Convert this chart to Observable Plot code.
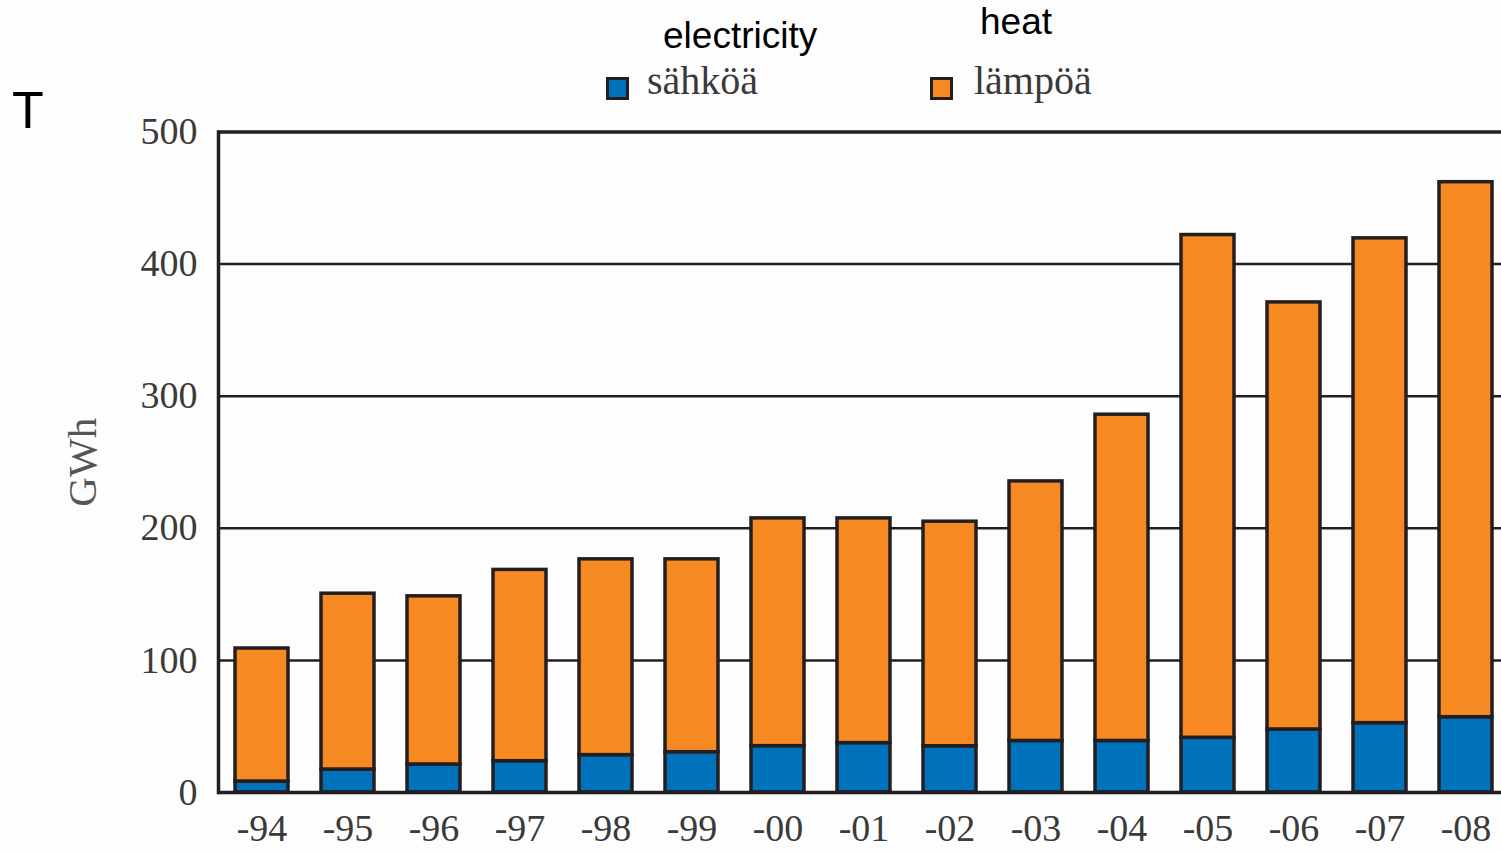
<!DOCTYPE html>
<html>
<head>
<meta charset="utf-8">
<script src="https://cdn.jsdelivr.net/npm/d3@7"></script>
<script src="https://cdn.jsdelivr.net/npm/@observablehq/plot@0.6"></script>
<style>
  html, body { margin: 0; padding: 0; background: #fdfdfd; }
  #wrap { position: relative; width: 1501px; height: 852px; overflow: hidden; }
  #chart { position: absolute; left: 0; top: 0; }
  .ov { position: absolute; white-space: nowrap; line-height: 1; }
  .sans { font-family: "Liberation Sans", Arial, sans-serif; color: #000; }
  .serif { font-family: "Liberation Serif", "DejaVu Serif", serif; color: #3a3a3a; }
  .sw { position: absolute; width: 17px; height: 17px; border: 3px solid #231f20; }
</style>
</head>
<body>
<div id="wrap">
  <div id="chart"></div>
  <div class="ov sans" style="left:12px; top:84px; font-size:52px;">T</div>
  <div class="ov sans" style="left:663px; top:17px; font-size:37px;">electricity</div>
  <div class="ov sans" style="left:980px; top:3px; font-size:37px;">heat</div>
  <div class="sw" style="left:606px; top:77px; background:#0072bc;"></div>
  <div class="ov serif" id="lg1" style="left:647px; top:61px; font-size:40px;"></div>
  <div class="sw" style="left:930px; top:77px; background:#f68921;"></div>
  <div class="ov serif" id="lg2" style="left:974px; top:61px; font-size:40px;"></div>
</div>
<script>
// ---- data ----
const years = ["-94","-95","-96","-97","-98","-99","-00","-01","-02","-03","-04","-05","-06","-07","-08"];
const electricity = [8.3, 17.4, 21.2, 23.7, 28.3, 30.5, 35.1, 37.4, 35, 39, 39, 41.4, 47.7, 52.5, 57];
const totals = [109, 150.5, 148.5, 168.5, 176.5, 176.5, 207.5, 207.5, 205, 235.5, 286, 422, 371, 419.5, 462];
const seriesNames = ["sähköä", "lämpöä"];
const seriesColors = ["#0072bc", "#f68921"];
const yTicks = [0, 100, 200, 300, 400, 500];
const gridValues = [100, 200, 300, 400];
const yLabel = "GWh";

document.getElementById("lg1").textContent = seriesNames[0];
document.getElementById("lg2").textContent = seriesNames[1];

const rows = [];
years.forEach((y, i) => {
  rows.push({year: y, series: seriesNames[0], value: electricity[i]});
  rows.push({year: y, series: seriesNames[1], value: totals[i] - electricity[i]});
});

const ink = "#231f20";
const serif = "Liberation Serif, DejaVu Serif, serif";

const chart = Plot.plot({
  width: 1501,
  height: 852,
  marginLeft: 218,
  marginRight: 0,
  marginTop: 131.5,
  marginBottom: 60,
  style: {background: "transparent", fontFamily: serif},
  x: {type: "band", domain: years, paddingInner: 0.384, paddingOuter: 0.145, align: 0.64},
  y: {domain: [0, 500]},
  color: {domain: seriesNames, range: seriesColors},
  marks: [
    Plot.ruleY(gridValues, {stroke: ink, strokeWidth: 2.5}),
    Plot.barY(rows, {x: "year", y: "value", fill: "series", stroke: ink, strokeWidth: 3.5, order: seriesNames}),
    Plot.ruleY([0, 500], {stroke: ink, strokeWidth: 3.5}),
    Plot.frame({anchor: "left", stroke: ink, strokeWidth: 3.5}),
    Plot.axisY({ticks: yTicks, tickSize: 0, tickPadding: 21, fontSize: 38, fill: "#3a3a3a",
      label: null}),
    Plot.axisY({ticks: [], tickSize: 0, fontSize: 41, fill: "#555",
      label: yLabel, labelAnchor: "center", labelArrow: "none", labelOffset: 152}),
    Plot.axisX({tickSize: 0, tickPadding: 22, fontSize: 38, fill: "#3a3a3a", label: null})
  ]
});
document.getElementById("chart").appendChild(chart);
</script>
</body>
</html>
